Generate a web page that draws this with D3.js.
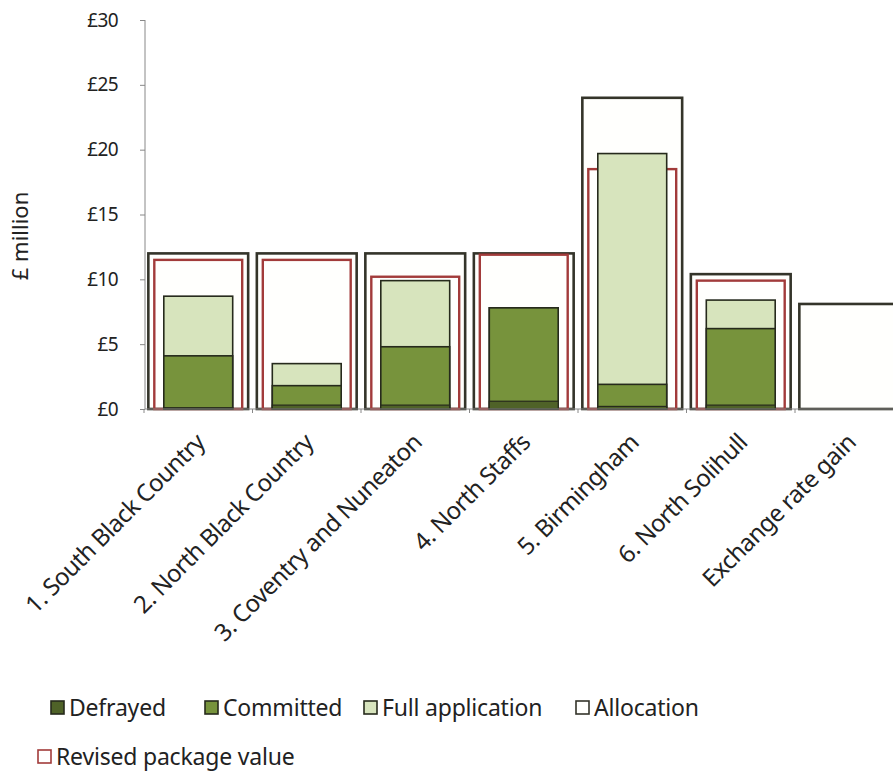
<!DOCTYPE html>
<meta charset="utf-8">
<style>
    body { margin: 0; background: #fff; }
    svg { display: block; font-family: "Noto Sans", "Open Sans", sans-serif; }
    .axis path, .axis line { stroke: #888; }
    .ytick text { font-size: 19px; fill: #222; letter-spacing: -0.6px; }
    .xlab { font-size: 24px; fill: #222; letter-spacing: -0.6px; }
    .legend text { font-size: 23px; fill: #222; letter-spacing: -0.2px; }
</style>
<body>
<script src="https://cdn.jsdelivr.net/npm/d3@7"></script>
<script>
    // values (£ million)
    var categories = ["1. South Black Country", "2. North Black Country", "3. Coventry and Nuneaton",
        "4. North Staffs", "5. Birmingham", "6. North Solihull", "Exchange rate gain"];
    var allocation      = [12, 12, 12, 12, 24, 10.4, 8.1];
    var revised         = [11.5, 11.5, 10.2, 11.9, 18.5, 9.9, 0];
    var fullApplication = [8.7, 3.5, 9.9, 7.8, 19.7, 8.4, 0];
    var committed       = [4.1, 1.8, 4.8, 7.8, 1.9, 6.2, 0];
    var defrayed        = [0.1, 0.3, 0.3, 0.6, 0.2, 0.3, 0];
    var yTicks = [0, 5, 10, 15, 20, 25, 30];

    var width = 893, height = 776;

    var svg = d3.select("body").append("svg")
        .attr("width", width)
        .attr("height", height);

    var x = d3.scaleBand().domain(categories).range([144, 903.5]).padding(0);
    var y = d3.scaleLinear().domain([0, 30]).range([409, 20]);
    var bw = x.bandwidth();

    // series, drawn back to front; w = share of the category width
    var series = [
        {name: "Allocation", values: allocation, w: 0.92, fill: "#fffffd", stroke: "#34342a", sw: 2.6},
        {name: "Revised package value", values: revised, w: 0.81, fill: "none", stroke: "#a23b3a", sw: 2.4},
        {name: "Full application", values: fullApplication, w: 0.635, fill: "#d7e4bd", stroke: "#262a1c", sw: 1.6},
        {name: "Committed", values: committed, w: 0.635, fill: "#77933c", stroke: "#262a1c", sw: 1.6},
        {name: "Defrayed", values: defrayed, w: 0.635, fill: "#4f6228", stroke: "#262a1c", sw: 1.2}
    ];

    series.forEach(function(s) {
        svg.append("g").selectAll("rect")
            .data(s.values.map(function(v, i) { return {c: categories[i], v: v}; })
                .filter(function(d) { return d.v > 0; }))
            .enter().append("rect")
            .attr("x", function(d) { return x(d.c) + bw * (1 - s.w) / 2; })
            .attr("width", bw * s.w)
            .attr("y", function(d) { return y(d.v); })
            .attr("height", function(d) { return y(0) - y(d.v); })
            .style("fill", s.fill)
            .style("stroke", s.stroke)
            .style("stroke-width", s.sw);
    });

    // y axis
    var yAxis = svg.append("g").attr("class", "axis ytick")
        .attr("transform", "translate(145,0)")
        .call(d3.axisLeft(y).tickValues(yTicks).tickSize(5).tickPadding(22)
            .tickFormat(function(d) { return "£" + d; }));
    yAxis.attr("font-family", null).attr("font-size", null);
    yAxis.select(".domain").attr("d", "M0,20V409");

    // x axis
    var xAxis = svg.append("g").attr("class", "axis")
        .attr("transform", "translate(0,409)");
    xAxis.append("line").attr("x1", 145).attr("x2", width).attr("y1", 0).attr("y2", 0);
    xAxis.selectAll(".tk")
        .data(categories)
        .enter().append("line")
        .attr("x1", function(d) { return x(d); })
        .attr("x2", function(d) { return x(d); })
        .attr("y1", 0).attr("y2", 4);

    svg.append("g").selectAll("text")
        .data(categories)
        .enter().append("text")
        .attr("class", "xlab")
        .attr("text-anchor", "end")
        .attr("transform", function(d) {
            return "translate(" + (x(d) + bw / 2 + 2) + ",438) rotate(-45)";
        })
        .attr("dy", "0.35em")
        .text(function(d) { return d; });

    svg.append("text")
        .attr("transform", "translate(28,236) rotate(-90)")
        .attr("text-anchor", "middle")
        .style("font-size", "22px")
        .style("fill", "#222")
        .text("£ million");

    // legend
    var legendItems = [
        {name: "Defrayed", fill: "#4f6228", stroke: "#262a1c", x: 51, y: 708},
        {name: "Committed", fill: "#77933c", stroke: "#262a1c", x: 205, y: 708},
        {name: "Full application", fill: "#d7e4bd", stroke: "#262a1c", x: 364, y: 708},
        {name: "Allocation", fill: "#fffffd", stroke: "#34342a", x: 576, y: 708},
        {name: "Revised package value", fill: "#fff", stroke: "#a23b3a", x: 38, y: 757}
    ];
    var lg = svg.append("g").attr("class", "legend").selectAll("g")
        .data(legendItems)
        .enter().append("g")
        .attr("transform", function(d) { return "translate(" + d.x + "," + d.y + ")"; });
    lg.append("rect")
        .attr("x", 0).attr("y", -7).attr("width", 13).attr("height", 13)
        .style("fill", function(d) { return d.fill; })
        .style("stroke", function(d) { return d.stroke; })
        .style("stroke-width", 1.6);
    lg.append("text")
        .attr("x", 18).attr("dy", "0.35em")
        .text(function(d) { return d.name; });
</script>
</body>
</html>
